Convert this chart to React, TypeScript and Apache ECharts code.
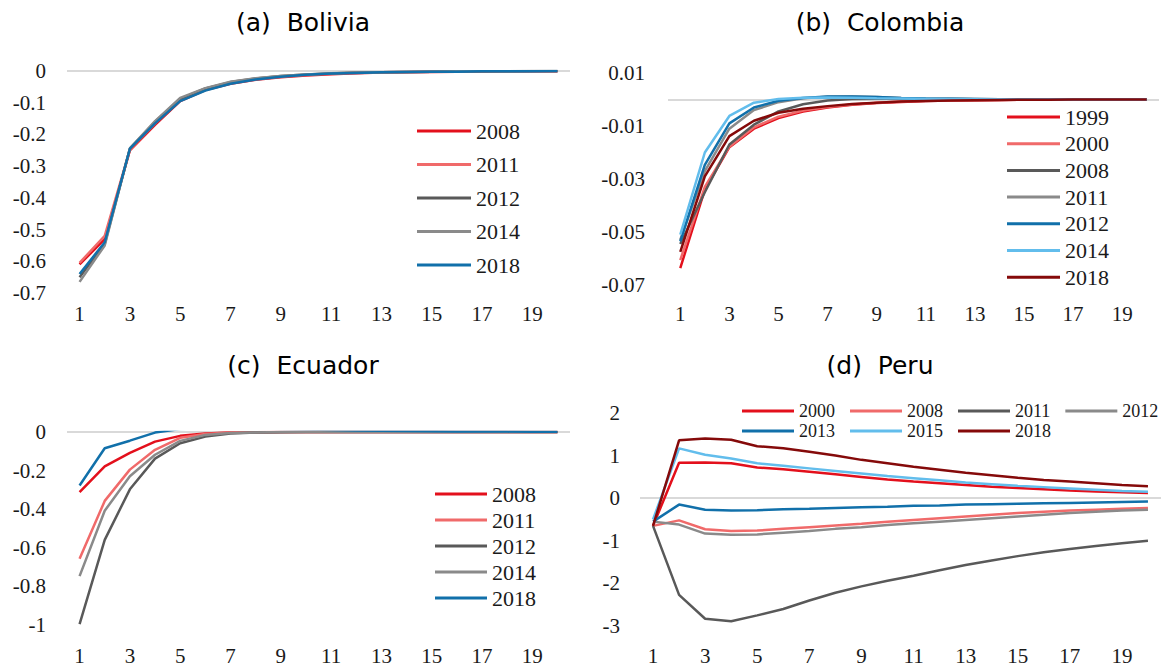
import React, { useEffect, useRef } from "react";
import * as echarts from "echarts";

const periods = ["1","2","3","4","5","6","7","8","9","10","11","12","13","14","15","16","17","18","19","20"];

// (a) Bolivia
const bolYears = ["2008", "2011", "2012", "2014", "2018"];
const bol2008 = [-0.61,-0.53,-0.25,-0.17,-0.095,-0.06,-0.04,-0.028,-0.02,-0.014,-0.01,-0.007,-0.005,-0.004,-0.003,-0.002,-0.002,-0.001,-0.001,-0.001];
const bol2011 = [-0.605,-0.52,-0.248,-0.165,-0.092,-0.058,-0.038,-0.026,-0.018,-0.013,-0.009,-0.006,-0.004,-0.003,-0.002,-0.002,-0.001,-0.001,-0.001,-0.001];
const bol2012 = [-0.65,-0.545,-0.245,-0.16,-0.088,-0.055,-0.035,-0.024,-0.016,-0.011,-0.008,-0.005,-0.004,-0.003,-0.002,-0.001,-0.001,-0.001,0,0];
const bol2014 = [-0.665,-0.55,-0.244,-0.158,-0.085,-0.054,-0.034,-0.023,-0.016,-0.011,-0.007,-0.005,-0.004,-0.003,-0.002,-0.001,-0.001,-0.001,0,0];
const bol2018 = [-0.64,-0.54,-0.245,-0.165,-0.095,-0.062,-0.04,-0.027,-0.018,-0.012,-0.008,-0.006,-0.004,-0.003,-0.002,-0.002,-0.001,-0.001,-0.001,0];

// (b) Colombia
const colYears = ["1999", "2000", "2008", "2011", "2012", "2014", "2018"];
const col1999 = [-0.0636,-0.034,-0.018,-0.011,-0.007,-0.0045,-0.003,-0.002,-0.0013,-0.0009,-0.0006,-0.0004,-0.0003,-0.0002,-0.0001,-0.0001,0,0,0,0];
const col2000 = [-0.0606,-0.033,-0.0178,-0.0105,-0.0065,-0.0042,-0.0028,-0.0019,-0.0012,-0.0008,-0.0005,-0.0004,-0.0003,-0.0002,-0.0001,-0.0001,0,0,0,0];
const col2008 = [-0.0545,-0.035,-0.017,-0.0095,-0.0045,-0.0018,-0.0004,0.0002,0.0003,0.0003,0.0002,0.0002,0.0001,0.0001,0,0,0,0,0,0];
const col2011 = [-0.053,-0.027,-0.011,-0.004,-0.001,0.0005,0.001,0.0011,0.0009,0.0006,0.0004,0.0003,0.0002,0.0001,0.0001,0,0,0,0,0];
const col2012 = [-0.0535,-0.0247,-0.009,-0.003,-0.0005,0.0006,0.0011,0.0011,0.0009,0.0006,0.0004,0.0003,0.0002,0.0001,0.0001,0,0,0,0,0];
const col2014 = [-0.051,-0.02,-0.0062,-0.0012,0.0002,0.0007,0.0008,0.0007,0.0005,0.0004,0.0003,0.0002,0.0001,0.0001,0,0,0,0,0,0];
const col2018 = [-0.0575,-0.029,-0.0138,-0.008,-0.005,-0.0035,-0.0025,-0.0017,-0.0012,-0.0008,-0.0006,-0.0004,-0.0003,-0.0002,-0.0001,-0.0001,0,0,0,0];

// (c) Ecuador
const ecuYears = ["2008", "2011", "2012", "2014", "2018"];
const ecu2008 = [-0.311,-0.178,-0.108,-0.05,-0.02,-0.008,-0.003,-0.001,0,0,0,0,0,0,0,0,0,0,0,0];
const ecu2011 = [-0.657,-0.357,-0.195,-0.092,-0.03,-0.01,-0.003,-0.001,0,0,0,0,0,0,0,0,0,0,0,0];
const ecu2012 = [-0.995,-0.559,-0.297,-0.138,-0.058,-0.024,-0.008,-0.003,-0.001,0,0,0,0,0,0,0,0,0,0,0];
const ecu2014 = [-0.747,-0.408,-0.229,-0.118,-0.046,-0.015,-0.005,-0.002,0,0,0,0,0,0,0,0,0,0,0,0];
const ecu2018 = [-0.277,-0.084,-0.045,-0.003,0.015,0.022,0.022,0.019,0.016,0.013,0.01,0.008,0.006,0.005,0.004,0.003,0.002,0.002,0.001,0.001];

// (d) Peru
const peruYears = ["2000", "2008", "2011", "2012", "2013", "2015", "2018"];
const peru2000 = [-0.65,0.83,0.84,0.82,0.72,0.68,0.62,0.56,0.5,0.44,0.39,0.35,0.31,0.27,0.24,0.21,0.18,0.16,0.14,0.12];
const peru2008 = [-0.65,-0.52,-0.73,-0.77,-0.76,-0.72,-0.68,-0.64,-0.6,-0.55,-0.51,-0.47,-0.43,-0.39,-0.35,-0.32,-0.29,-0.27,-0.25,-0.23];
const peru2011 = [-0.65,-2.27,-2.83,-2.89,-2.75,-2.6,-2.4,-2.22,-2.07,-1.94,-1.82,-1.69,-1.57,-1.46,-1.36,-1.27,-1.19,-1.12,-1.06,-1.0];
const peru2012 = [-0.55,-0.62,-0.83,-0.86,-0.85,-0.81,-0.77,-0.72,-0.68,-0.63,-0.59,-0.55,-0.51,-0.47,-0.43,-0.39,-0.35,-0.32,-0.29,-0.27];
const peru2013 = [-0.55,-0.15,-0.27,-0.29,-0.28,-0.26,-0.25,-0.23,-0.21,-0.2,-0.18,-0.17,-0.15,-0.14,-0.13,-0.12,-0.11,-0.1,-0.09,-0.08];
const peru2015 = [-0.5,1.17,1.02,0.93,0.82,0.76,0.7,0.64,0.58,0.52,0.47,0.42,0.37,0.33,0.29,0.26,0.23,0.2,0.17,0.15];
const peru2018 = [-0.65,1.36,1.4,1.37,1.22,1.17,1.09,1.0,0.9,0.82,0.74,0.67,0.6,0.54,0.48,0.43,0.39,0.35,0.31,0.28];

const RED = "#e3101c";
const LRED = "#f06a6a";
const DGRAY = "#595959";
const GRAY = "#8a8a8a";
const BLUE = "#1170aa";
const LBLUE = "#62bdec";
const DRED = "#850a0a";

const SERIF = "Liberation Serif";
const TXT = "#1a1a1a";

const fmt = (v: number) => String(Number(v.toFixed(3)));
// series names are prefixed by panel key so that panels do not share legend entries
const key = (p: string, y: string) => p + ":" + y;
const unkey = (n: string) => n.split(":")[1];

export default function App() {
  const ref = useRef<HTMLDivElement>(null);
  useEffect(() => {
    document.body.style.margin = "0";
    const chart = echarts.init(ref.current!, null, { renderer: "svg" });

    const mkSeries = (idx: number, p: string, names: string[], data: number[][], colors: string[]) =>
      names.map((n, i) => ({
        type: "line",
        name: key(p, n),
        xAxisIndex: idx,
        yAxisIndex: idx,
        data: data[i],
        symbol: "none",
        smooth: false,
        lineStyle: { width: 2.5, color: colors[i] },
        itemStyle: { color: colors[i] },
        z: 3,
        markLine: i === 0 ? {
          silent: true,
          symbol: "none",
          z: 1,
          label: { show: false },
          lineStyle: { color: "#d9d9d9", width: 2, type: "solid" },
          data: [{ yAxis: 0 }],
        } : undefined,
      }));

    const grids = [
      { left: 67, top: 71, width: 503, height: 222 },
      { left: 668, top: 73, width: 491, height: 212 },
      { left: 67, top: 432, width: 503, height: 195 },
      { left: 640, top: 413, width: 521, height: 215 },
    ];
    const xMargins = [10, 18, 20, 19];
    const yMargins = [21, 23, 21, 20];
    const yCfg = [
      { min: -0.7, max: 0, interval: 0.1 },
      { min: -0.07, max: 0.01, interval: 0.02 },
      { min: -1, max: 0, interval: 0.2 },
      { min: -3, max: 2, interval: 1 },
    ];

    const xAxis = grids.map((_, i) => ({
      type: "category",
      gridIndex: i,
      data: periods,
      boundaryGap: true,
      axisLine: { show: false },
      axisTick: { show: false },
      splitLine: { show: false },
      axisLabel: { interval: 1, margin: xMargins[i], fontFamily: SERIF, fontSize: 21, color: TXT },
    }));
    const yAxis = grids.map((_, i) => ({
      type: "value",
      gridIndex: i,
      ...yCfg[i],
      axisLine: { show: false },
      axisTick: { show: false },
      splitLine: { show: false },
      axisLabel: { margin: yMargins[i], fontFamily: SERIF, fontSize: 21, color: TXT, formatter: fmt },
    }));

    const series = [
      ...mkSeries(0, "a", bolYears, [bol2008, bol2011, bol2012, bol2014, bol2018], [RED, LRED, DGRAY, GRAY, BLUE]),
      ...mkSeries(1, "b", colYears, [col1999, col2000, col2008, col2011, col2012, col2014, col2018], [RED, LRED, DGRAY, GRAY, BLUE, LBLUE, DRED]),
      ...mkSeries(2, "c", ecuYears, [ecu2008, ecu2011, ecu2012, ecu2014, ecu2018], [RED, LRED, DGRAY, GRAY, BLUE]),
      ...mkSeries(3, "d", peruYears, [peru2000, peru2008, peru2011, peru2012, peru2013, peru2015, peru2018], [RED, LRED, DGRAY, GRAY, BLUE, LBLUE, DRED]),
    ];

    const legendBase = (extra: any) => ({
      icon: "rect",
      itemHeight: 3,
      padding: 0,
      selectedMode: false,
      formatter: unkey,
      textStyle: { fontFamily: SERIF, fontSize: 22, color: TXT, lineHeight: 22 },
      ...extra,
    });
    const peruText = { fontFamily: SERIF, fontSize: 18, color: TXT, lineHeight: 18 };

    const legend = [
      legendBase({ orient: "vertical", left: 417, top: 120, itemWidth: 54, itemGap: 11.5, data: bolYears.map((y) => key("a", y)) }),
      legendBase({ orient: "vertical", left: 1007, top: 106, itemWidth: 53, itemGap: 4.7, data: colYears.map((y) => key("b", y)) }),
      legendBase({ orient: "vertical", left: 435, top: 483, itemWidth: 52, itemGap: 4, data: ecuYears.map((y) => key("c", y)) }),
      legendBase({ orient: "horizontal", left: 742, top: 402, width: 440, itemWidth: 52, itemGap: 15, textStyle: peruText, data: peruYears.slice(0, 4).map((y) => key("d", y)) }),
      legendBase({ orient: "horizontal", left: 742, top: 422, width: 440, itemWidth: 52, itemGap: 15, textStyle: peruText, data: peruYears.slice(4).map((y) => key("d", y)) }),
    ];

    const titleStyle = { fontFamily: "DejaVu Sans", fontSize: 25, fill: "#000", textAlign: "center", textVerticalAlign: "middle" };
    const graphic = [
      { type: "text", x: 303, y: 22, style: { ...titleStyle, text: "(a)  Bolivia" } },
      { type: "text", x: 880, y: 22, style: { ...titleStyle, text: "(b)  Colombia" } },
      { type: "text", x: 303, y: 365, style: { ...titleStyle, text: "(c)  Ecuador" } },
      { type: "text", x: 880, y: 365, style: { ...titleStyle, text: "(d)  Peru" } },
    ];

    chart.setOption({
      animation: false,
      backgroundColor: "#fff",
      grid: grids,
      xAxis,
      yAxis,
      series,
      legend,
      graphic,
    });
    return () => chart.dispose();
  }, []);
  return <div ref={ref} style={{ width: 1167, height: 666 }} />;
}
